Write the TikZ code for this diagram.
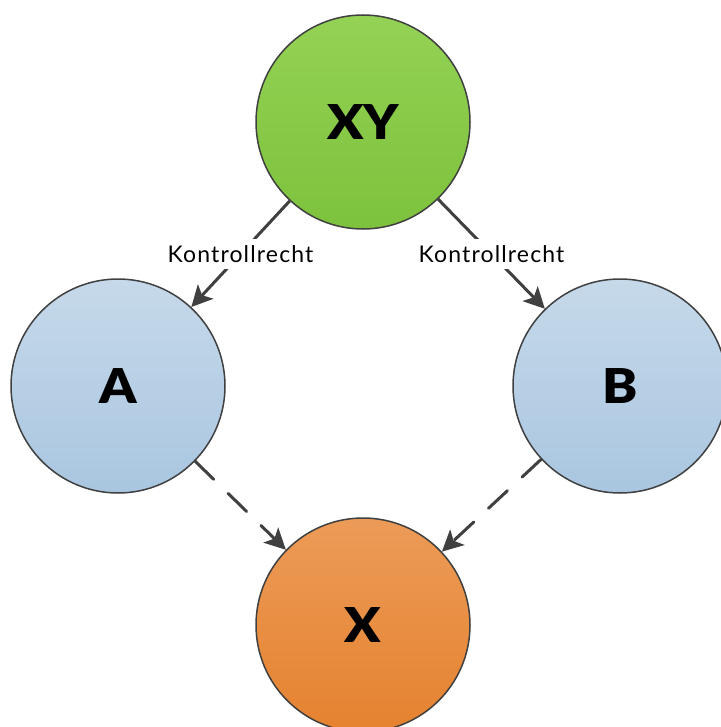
\documentclass[tikz,border=0pt]{standalone}
\usepackage{fontspec}
\setmainfont{Lato}
\newfontfamily\heavy{Lato Black}
\usetikzlibrary{arrows.meta}
\definecolor{edge}{HTML}{404040}
\definecolor{gtop}{HTML}{94D255}
\definecolor{gbot}{HTML}{7DC23C}
\definecolor{btop}{HTML}{C6D9EA}
\definecolor{bbot}{HTML}{A9C6E0}
\definecolor{otop}{HTML}{EC9B58}
\definecolor{obot}{HTML}{E5822F}
\newcommand{\biglet}[1]{\scalebox{1.1}[1]{#1}}
\tikzset{
  ent/.style={circle, draw=edge, line width=1.5pt, minimum size=214pt, inner sep=0pt,
    font=\heavy\fontsize{48}{48}\selectfont},
  ctrl/.style={draw=edge, line width=3pt, -{Stealth[length=21pt, width=21pt, inset=5pt]}},
  part/.style={ctrl, dash pattern=on 26pt off 20pt, line cap=round},
  lbl/.style={fill=white, inner sep=6pt, font=\fontsize{23}{23}\selectfont\addfontfeature{LetterSpace=5}}
}
\begin{document}
\begin{tikzpicture}[x=1pt, y=-1pt]
\useasboundingbox (0,0) rectangle (720,727);
\node[ent, top color=gtop, bottom color=gbot] (xy) at (363,122) {\biglet{XY}};
\node[ent, top color=btop, bottom color=bbot] (a) at (118,386) {\biglet{A}};
\node[ent, top color=btop, bottom color=bbot] (b) at (620,386) {\biglet{B}};
\node[ent, top color=otop, bottom color=obot] (x) at (363,625) {\biglet{X}};
\draw[ctrl] (xy) -- node[lbl] {Kontrollrecht} (a);
\draw[ctrl] (xy) -- node[lbl] {Kontrollrecht} (b);
\draw[part] (a) -- (x);
\draw[part] (b) -- (x);
\end{tikzpicture}
\end{document}
